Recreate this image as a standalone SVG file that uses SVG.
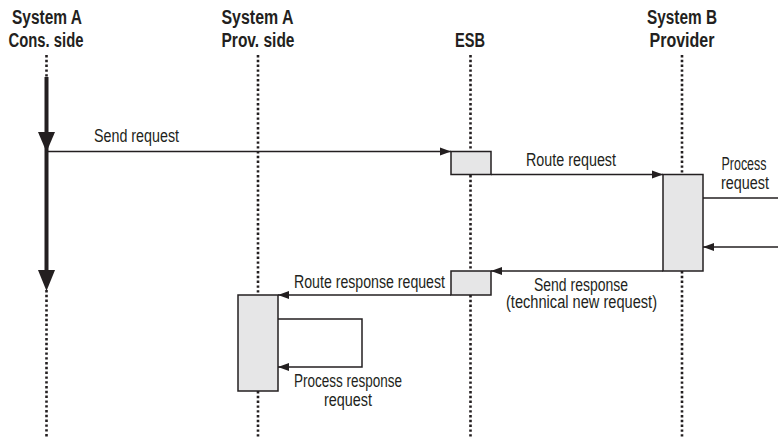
<svg xmlns="http://www.w3.org/2000/svg" width="778" height="438" viewBox="0 0 778 438">
<style>
.hd{font-family:"Liberation Sans Narrow","Liberation Sans",Arial,sans-serif;font-weight:bold;font-size:20px;fill:#231f20;text-anchor:middle}
.lb{font-family:"Liberation Sans Narrow","Liberation Sans",Arial,sans-serif;font-size:18px;fill:#231f20}
.life{stroke:#231f20;stroke-width:2.6;stroke-dasharray:2.4 2.4;fill:none}
.box{fill:#e6e6e7;stroke:#231f20;stroke-width:1.5}
.msg{stroke:#231f20;stroke-width:1.5;fill:none}
.arr{stroke:#231f20;stroke-width:1.5;fill:none;marker-end:url(#ah)}
</style>
<defs>
<marker id="ah" markerUnits="userSpaceOnUse" markerWidth="12" markerHeight="9" refX="11" refY="4.5" orient="auto">
<path d="M0,0.5 L11,4.5 L0,8.5 z" fill="#231f20"/>
</marker>
</defs>
<rect width="778" height="438" fill="#ffffff"/>

<g id="consumer">
<text class="hd" x="47" y="24" textLength="70" lengthAdjust="spacingAndGlyphs">System A</text>
<text class="hd" x="46" y="47" textLength="75" lengthAdjust="spacingAndGlyphs">Cons. side</text>
<line class="life" x1="46.5" y1="55" x2="46.5" y2="77"/>
<line class="life" x1="46.5" y1="290" x2="46.5" y2="437"/>
<line x1="46.5" y1="77" x2="46.5" y2="272" stroke="#231f20" stroke-width="4"/>
<polygon points="38,132 55,132 46.5,152" fill="#231f20"/>
<polygon points="38,270 55,270 46.5,291" fill="#231f20"/>
</g>

<g id="provider-side">
<text class="hd" x="257.5" y="24" textLength="72" lengthAdjust="spacingAndGlyphs">System A</text>
<text class="hd" x="258" y="47" textLength="73" lengthAdjust="spacingAndGlyphs">Prov. side</text>
<line class="life" x1="258" y1="55" x2="258" y2="437"/>
<rect class="box" x="238" y="295" width="40" height="96"/>
</g>

<g id="esb">
<text class="hd" x="470" y="47" textLength="30" lengthAdjust="spacingAndGlyphs">ESB</text>
<line class="life" x1="470.5" y1="55" x2="470.5" y2="437"/>
<rect class="box" x="451" y="151.5" width="40" height="23"/>
<rect class="box" x="451" y="271" width="40" height="24"/>
</g>

<g id="system-b">
<text class="hd" x="682" y="24" textLength="70" lengthAdjust="spacingAndGlyphs">System B</text>
<text class="hd" x="682" y="47" textLength="65" lengthAdjust="spacingAndGlyphs">Provider</text>
<line class="life" x1="682" y1="55" x2="682" y2="437"/>
<rect class="box" x="663" y="174.5" width="40" height="96.5"/>
</g>

<g id="connectors">
<line class="arr" x1="46.5" y1="151.5" x2="451" y2="151.5"/>
<text class="lb" x="94" y="142" textLength="85" lengthAdjust="spacingAndGlyphs">Send request</text>

<line class="arr" x1="491" y1="174.5" x2="663" y2="174.5"/>
<text class="lb" x="526" y="166" textLength="90" lengthAdjust="spacingAndGlyphs">Route request</text>

<line class="msg" x1="703" y1="198" x2="778" y2="198"/>
<line class="arr" x1="778" y1="247" x2="703" y2="247"/>
<text class="lb" x="744" y="170" text-anchor="middle" textLength="45" lengthAdjust="spacingAndGlyphs">Process</text>
<text class="lb" x="745" y="189" text-anchor="middle" textLength="48" lengthAdjust="spacingAndGlyphs">request</text>

<line class="arr" x1="663" y1="271" x2="491" y2="271"/>
<text class="lb" x="581" y="291" text-anchor="middle" textLength="94" lengthAdjust="spacingAndGlyphs">Send response</text>
<text class="lb" x="581.5" y="308" text-anchor="middle" textLength="151" lengthAdjust="spacingAndGlyphs">(technical new request)</text>

<line class="arr" x1="451" y1="295" x2="278" y2="295"/>
<text class="lb" x="294" y="288" textLength="151" lengthAdjust="spacingAndGlyphs">Route response request</text>

<path class="arr" d="M278,319 H362 V367 H278"/>
<text class="lb" x="294" y="387" textLength="108" lengthAdjust="spacingAndGlyphs">Process response</text>
<text class="lb" x="348" y="406" text-anchor="middle" textLength="48" lengthAdjust="spacingAndGlyphs">request</text>
</g>
</svg>
